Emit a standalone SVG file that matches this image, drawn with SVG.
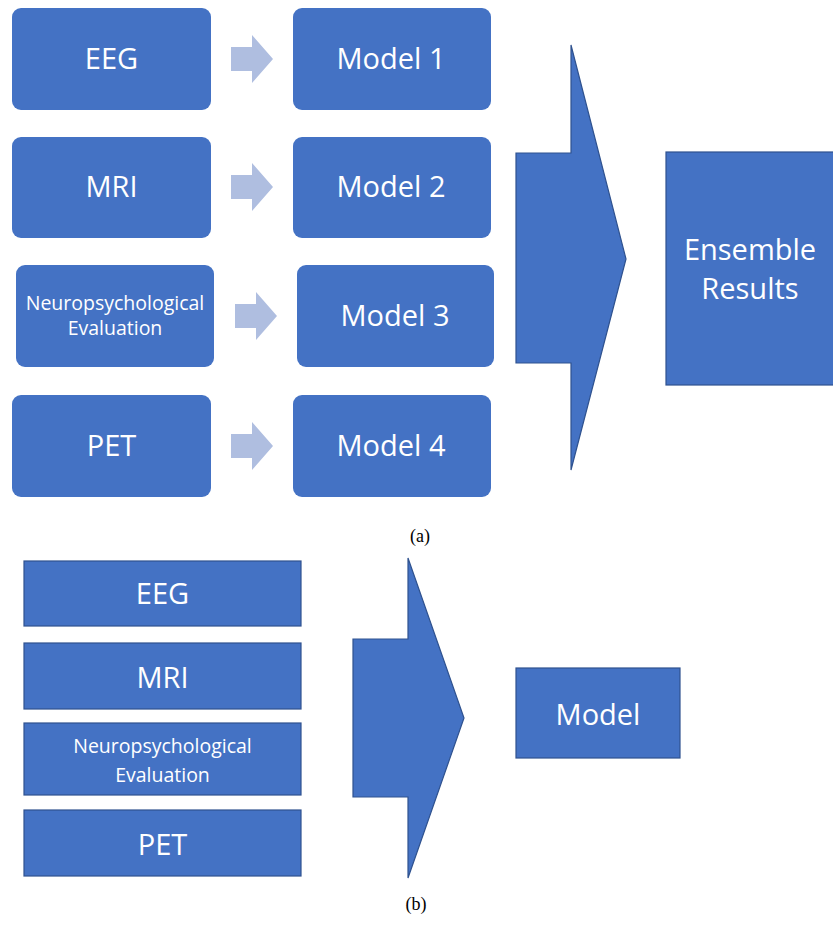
<svg xmlns="http://www.w3.org/2000/svg" width="833" height="932" viewBox="0 0 833 932">
  <style>
    .box { fill: #4472C4; }
    .boxs { fill: #4472C4; stroke: #2F528F; stroke-width: 1.2; }
    .big { fill: #4472C4; stroke: #2F528F; stroke-width: 1.2; }
    .small { fill: #AFBEE0; }
    .lbl { font-family: "Open Sans", "Liberation Sans", sans-serif; fill: #FFFFFF; text-anchor: middle; }
    .l28 { font-size: 29px; }
    .l18 { font-size: 19.5px; }
    .cap { font-family: "Liberation Serif", serif; font-size: 18px; fill: #000000; text-anchor: middle; }
  </style>
  <rect width="833" height="932" fill="#FFFFFF"/>

  <!-- (a) inputs -->
  <g id="a-eeg"><rect class="box" x="12" y="8" width="199" height="102" rx="9"/><text class="lbl l28" x="111.5" y="69">EEG</text></g>
  <g id="a-mri"><rect class="box" x="12" y="137" width="199" height="101" rx="9"/><text class="lbl l28" x="111.5" y="197">MRI</text></g>
  <g id="a-neuro"><rect class="box" x="16" y="265" width="198" height="102" rx="9"/><text class="lbl l18" x="115" y="310">Neuropsychological</text><text class="lbl l18" x="115" y="335">Evaluation</text></g>
  <g id="a-pet"><rect class="box" x="12" y="395" width="199" height="102" rx="9"/><text class="lbl l28" x="111.5" y="456">PET</text></g>

  <!-- (a) models -->
  <g id="a-model1"><rect class="box" x="293" y="8" width="198" height="102" rx="9"/><text class="lbl l28" x="391" y="69">Model 1</text></g>
  <g id="a-model2"><rect class="box" x="293" y="137" width="198" height="101" rx="9"/><text class="lbl l28" x="391" y="197">Model 2</text></g>
  <g id="a-model3"><rect class="box" x="297" y="265" width="197" height="102" rx="9"/><text class="lbl l28" x="395" y="326">Model 3</text></g>
  <g id="a-model4"><rect class="box" x="293" y="395" width="198" height="102" rx="9"/><text class="lbl l28" x="391" y="456">Model 4</text></g>

  <!-- (a) ensemble output -->
  <g id="a-ensemble"><rect class="boxs" x="666" y="152" width="170" height="233"/><text class="lbl l28" x="750" y="260">Ensemble</text><text class="lbl l28" x="750" y="299">Results</text></g>

  <!-- connectors -->
  <g id="connectors">
    <polygon class="small" points="231,47 252,47 252,35 273,59 252,83 252,71 231,71"/>
    <polygon class="small" points="231,175 252,175 252,163 273,187 252,211 252,199 231,199"/>
    <polygon class="small" points="235,304 256,304 256,292 277,316 256,340 256,328 235,328"/>
    <polygon class="small" points="231,434 252,434 252,422 273,446 252,470 252,458 231,458"/>
    <polygon class="big" points="516,153 571,153 571,45 626,259 571,470 571,363 516,363"/>
    <polygon class="big" points="353,639 408,639 408,558 464,718 408,878 408,797 353,797"/>
  </g>

  <text class="cap" x="420" y="542">(a)</text>

  <!-- (b) stacked inputs -->
  <g id="b-eeg"><rect class="boxs" x="24" y="561" width="277" height="65"/><text class="lbl l28" x="162.5" y="604">EEG</text></g>
  <g id="b-mri"><rect class="boxs" x="24" y="643" width="277" height="66"/><text class="lbl l28" x="162.5" y="688">MRI</text></g>
  <g id="b-neuro"><rect class="boxs" x="24" y="723" width="277" height="72"/><text class="lbl l18" x="162.5" y="753">Neuropsychological</text><text class="lbl l18" x="162.5" y="782">Evaluation</text></g>
  <g id="b-pet"><rect class="boxs" x="24" y="810" width="277" height="66"/><text class="lbl l28" x="162.5" y="855">PET</text></g>

  <!-- (b) single model -->
  <g id="b-model"><rect class="boxs" x="516" y="668" width="164" height="90"/><text class="lbl l28" x="598" y="725">Model</text></g>

  <text class="cap" x="416" y="910">(b)</text>
</svg>
